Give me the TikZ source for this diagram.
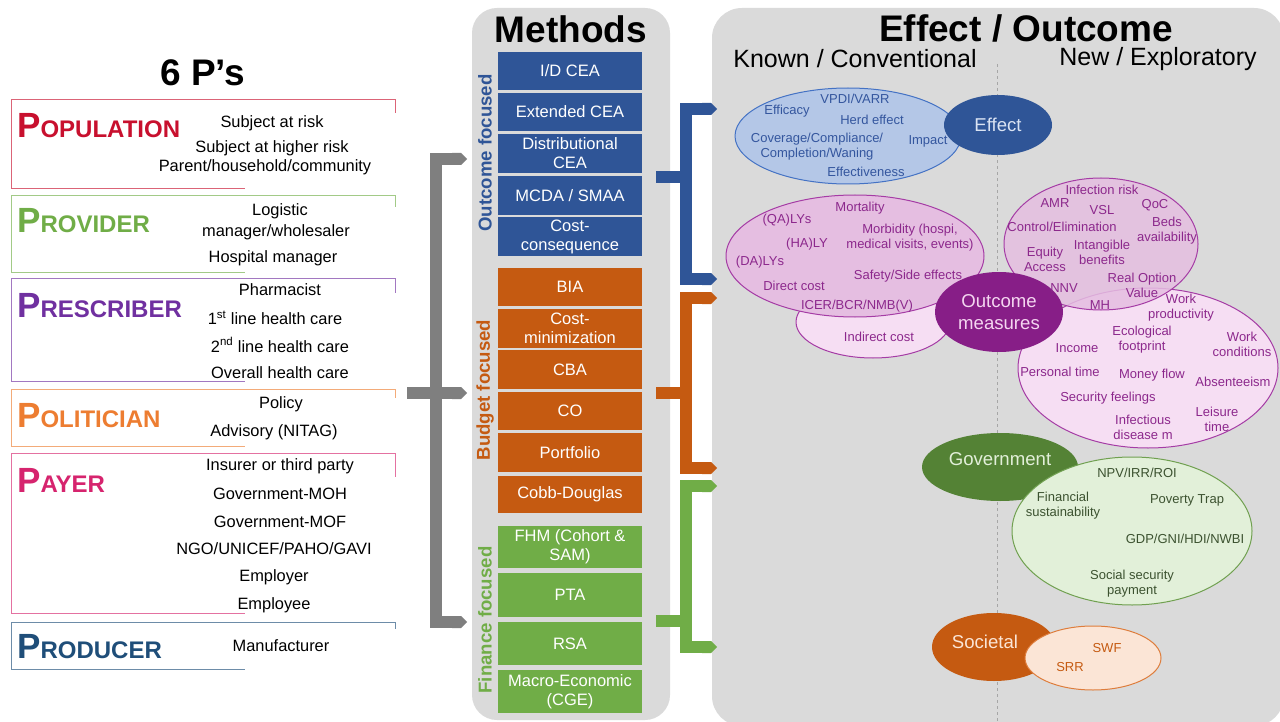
\documentclass[tikz,border=0pt]{standalone}
\usepackage{fontspec}
\setmainfont{Liberation Sans}
\usetikzlibrary{shapes.geometric,arrows.meta}

% colours
\definecolor{panelgray}{RGB}{218,218,218}
\definecolor{bargray}{RGB}{127,127,127}
\definecolor{mblue}{RGB}{47,85,151}
\definecolor{morange}{RGB}{197,90,17}
\definecolor{mgreen}{RGB}{112,173,71}
\definecolor{popred}{RGB}{200,16,46}
\definecolor{provgreen}{RGB}{112,173,71}
\definecolor{prespurple}{RGB}{112,48,160}
\definecolor{polorange}{RGB}{237,125,49}
\definecolor{paypink}{RGB}{214,36,110}
\definecolor{prodblue}{RGB}{31,78,121}
\definecolor{efffill}{RGB}{180,199,231}
\definecolor{effline}{RGB}{68,114,196}
\definecolor{efftext}{RGB}{52,86,158}
\definecolor{efflight}{RGB}{218,227,243}
\definecolor{outfill}{RGB}{229,190,225}
\definecolor{outpale}{RGB}{246,222,243}
\definecolor{outdraw}{RGB}{165,60,165}
\definecolor{outtext}{RGB}{140,40,140}
\definecolor{outdark}{RGB}{135,30,135}
\definecolor{outlight}{RGB}{244,214,240}
\definecolor{govdark}{RGB}{84,130,53}
\definecolor{govfill}{RGB}{226,240,217}
\definecolor{govline}{RGB}{112,160,80}
\definecolor{govtext}{RGB}{60,82,48}
\definecolor{govlight}{RGB}{226,239,217}
\definecolor{socdark}{RGB}{197,90,17}
\definecolor{socfill}{RGB}{251,229,214}
\definecolor{socline}{RGB}{222,125,60}

% big initial, smaller capitals
\newcommand\Pword[2]{{\fontsize{35}{35}\selectfont#1}{\fontsize{24}{24}\selectfont#2}}

\tikzset{
  big/.style={font=\fontsize{37}{40}\selectfont\bfseries, inner sep=0pt},
  sub/.style={font=\fontsize{25}{28}\selectfont, inner sep=0pt},
  item/.style={font=\fontsize{16.4}{18}\selectfont, inner sep=0pt},
  pname/.style={anchor=base west, inner sep=0pt, font=\bfseries},
  mbox/.style={rectangle, inner sep=0pt, minimum width=144pt, align=center,
    text=white, font=\fontsize{16.5}{19}\selectfont},
  side/.style={rotate=90, inner sep=0pt, font=\fontsize{18.6}{20}\selectfont\bfseries},
  bar/.style={line width=12pt, line join=miter},
  ell/.style={ellipse, inner sep=0pt, line width=1pt},
  small/.style={font=\fontsize{13}{15}\selectfont, inner sep=0pt, align=center},
  head/.style={font=\fontsize{18.6}{22}\selectfont, inner sep=0pt, align=center},
}

\begin{document}
\begin{tikzpicture}[x=1pt,y=-1pt]
  \useasboundingbox (0,0) rectangle (1280,722);
  \fill[white] (0,0) rectangle (1280,722);

  % panels
  \fill[panelgray, rounded corners=25pt] (472,8) rectangle (670,720);
  \fill[panelgray, rounded corners=30pt] (712,8) rectangle (1284,726);

  % headings
  \node[big] (ps) at (203,73) {6 P’s};
  \node[big] (methods) at (571,29) {Methods};
  \node[big] (effhead) at (1026,28) {Effect / Outcome};
  \node[sub] (known) at (855,59) {Known / Conventional};
  \node[sub] (new) at (1158,59) {New / Exploratory};

  % the six P frames
  \foreach \n/\c/\t/\b/\k in {population/popred/100/188/13, provider/provgreen/196/272/11,
      prescriber/prespurple/279/381/14, politician/polorange/390/446/8,
      payer/paypink/454/613/23, producer/prodblue/623/669/6}
  {
    \node[inner sep=0pt, minimum width=383pt, minimum height=\b-\t] (\n) at (203.5,{(\t+\b)/2}) {};
    \draw[\c!65, line width=1.2pt] ([xshift=233pt]\n.south west) -- (\n.south west)
      -- (\n.north west) -- (\n.north east) -- ++(0,\k);
  }

  \node[pname, text=popred] (popname) at (17,138) {\Pword{P}{OPULATION}};
  \node[pname, text=provgreen] (provname) at (17,233) {\Pword{P}{ROVIDER}};
  \node[pname, text=prespurple] (presname) at (17,317) {\Pword{P}{RESCRIBER}};
  \node[pname, text=polorange] (polname) at (17,427) {\Pword{P}{OLITICIAN}};
  \node[pname, text=paypink] (payname) at (17,492) {\Pword{P}{AYER}};
  \node[pname, text=prodblue] (prodname) at (17,658) {\Pword{P}{RODUCER}};

  \foreach \x/\y/\t [count=\i] in {272/123/Subject at risk, 272/148/Subject at higher risk,
      265/167/{Parent/household/community}, 280/211/Logistic, 276/232/{manager/wholesaler},
      273/258/Hospital manager, 280/290/Pharmacist, 275/318/{1\textsuperscript{st} line health care},
      280/345/{2\textsuperscript{nd} line health care}, 280/373/Overall health care,
      281/404/Policy, 274/432/{Advisory (NITAG)}, 280/466/Insurer or third party,
      280/494/Government-MOH, 280/522/Government-MOF, 274/549/{NGO/UNICEF/PAHO/GAVI},
      274/577/Employer, 274/605/Employee, 281/646/Manufacturer}
    \node[item] (who-\i) at (\x,\y) {\t};

  % methods column
  \foreach \n/\t/\b/\txt in {idcea/52/90/{I/D CEA}, xcea/93/131/{Extended CEA},
      dcea/134/173/{Distributional\\CEA}, mcda/176/215/{MCDA / SMAA},
      ccons/217/256/{Cost-\\consequence}}
    \node[mbox, fill=mblue, minimum height=\b-\t] (\n) at (570,{(\t+\b)/2}) {\txt};
  \foreach \n/\t/\b/\txt in {bia/268/306/BIA, cmin/309/348/{Cost-\\minimization},
      cba/350/389/CBA, co/392/430/CO, port/433/472/Portfolio, cobb/476/513/Cobb-Douglas}
    \node[mbox, fill=morange, minimum height=\b-\t] (\n) at (570,{(\t+\b)/2}) {\txt};
  \foreach \n/\t/\b/\txt in {fhm/526/568/{FHM (Cohort \&\\SAM)}, pta/573/617/PTA,
      rsa/622/665/RSA, macro/670/713/{Macro-Economic\\(CGE)}}
    \node[mbox, fill=mgreen, minimum height=\b-\t] (\n) at (570,{(\t+\b)/2}) {\txt};

  \node[side, text=mblue] (outfoc) at (485,153) {Outcome focused};
  \node[side, text=morange] (budfoc) at (485,390) {Budget focused};
  \node[side, text=mgreen] (finfoc) at (485,620) {Finance focused};

  % brackets
  \coordinate (g0) at (407,393);  \coordinate (g2) at (467,393);
  \coordinate (g1) at (467,159);  \coordinate (g3) at (467,622);
  \draw[bar, bargray, {Triangle Cap}-{Triangle Cap}] (g1) -- ++(-31,0) |- (g3);
  \draw[bar, bargray, -{Triangle Cap}] (g0) -- (g2);

  \foreach \c/\top/\mid/\bot in {mblue/109/177/279, morange/298/393/468, mgreen/486/621/647}
  {
    \coordinate (a-\c) at (717,\top);
    \coordinate (z-\c) at (717,\bot);
    \coordinate (m-\c) at (656,\mid);
    \coordinate (j-\c) at (686,\mid);
    \draw[bar, \c, {Triangle Cap}-{Triangle Cap}] (a-\c) -- ++(-31,0) |- (z-\c);
    \draw[bar, \c] (m-\c) -- (j-\c);
  }

  % divider
  \draw[dashed, gray!70, line width=0.7pt] (997,64) -- (997,722);

  % effect
  \node[ell, fill=efffill, draw=effline, minimum width=226pt, minimum height=96pt] (effall) at (848,136) {};
  \node[ell, head, fill=mblue, text=efflight, minimum width=108pt, minimum height=60pt] (effect) at (998,125) {Effect};
  \foreach \x/\y/\t [count=\i] in {787/111/Efficacy, 855/99/{VPDI/VARR}, 872/120/Herd effect,
      817/147/{Coverage/Compliance/\\Completion/Waning}, 928/141/Impact, 866/172/Effectiveness}
    \node[small, text=efftext] (eff-\i) at (\x,\y) {\t};

  % outcome measures
  \node[ell, fill=outpale, draw=outdraw, minimum width=154pt, minimum height=72pt] (indirect) at (873,322) {};
  \node[ell, fill=outfill, draw=outdraw, minimum width=258pt, minimum height=122pt] (conv) at (855,256) {};
  \node[ell, fill=outpale, draw=outdraw, minimum width=260pt, minimum height=160pt] (social) at (1148,368) {};
  \node[ell, fill=outfill, fill opacity=0.85, draw=outdraw, minimum width=194pt, minimum height=132pt] (explor) at (1101,244) {};
  \node[ell, head, fill=outdark, text=outlight, minimum width=128pt, minimum height=80pt] (measures) at (999,312) {Outcome\\measures};
  \foreach \x/\y/\t [count=\i] in {860/208/Mortality, 787/220/{(QA)LYs},
      910/238/{Morbidity (hospi,\\medical visits, events)}, 807/244/{(HA)LY}, 760/262/{(DA)LYs},
      908/276/{Safety/Side effects}, 794/286/Direct cost, 857/306/{ICER/BCR/NMB(V)},
      879/337/Indirect cost,
      1102/190/Infection risk, 1055/203/AMR, 1102/210/VSL, 1155/205/QoC,
      1062/227/{Control/Elimination}, 1167/231/{Beds\\availability}, 1102/252/{Intangible\\benefits},
      1045/259/{Equity\\Access}, 1142/285/{Real Option\\Value}, 1064/288/NNV, 1100/305/MH,
      1181/308/{Work\\productivity}, 1142/340/{Ecological\\footprint}, 1242/344/{Work\\conditions},
      1077/348/Income, 1060/372/Personal time, 1152/375/Money flow, 1233/382/Absenteeism,
      1108/398/Security feelings, 1217/419/{Leisure\\time}, 1143/427/{Infectious\\disease m}}
    \node[small, text=outtext] (out-\i) at (\x,\y) {\t};

  % government
  \node[ell, head, fill=govdark, text=govlight, minimum width=156pt, minimum height=68pt,
    text height=13.5pt, text depth=16pt] (gov) at (1000,467) {Government};
  \node[ell, fill=govfill, draw=govline, minimum width=240pt, minimum height=148pt] (govin) at (1132,531) {};
  \foreach \x/\y/\t [count=\i] in {1137/473/{NPV/IRR/ROI}, 1063/506/{Financial\\sustainability},
      1187/500/Poverty Trap, 1185/539/{GDP/GNI/HDI/NWBI}, 1132/584/{Social security\\payment}}
    \node[small, text=govtext] (gv-\i) at (\x,\y) {\t};

  % societal
  \node[ell, head, fill=socdark, text=socfill, minimum width=124pt, minimum height=68pt,
    text height=13.5pt, text depth=10pt] (soc) at (994,647) {Societal\hspace{18pt}};
  \node[ell, fill=socfill, draw=socline, minimum width=136pt, minimum height=64pt] (socin) at (1093,658) {};
  \node[small, text=morange] (swf) at (1107,648) {SWF};
  \node[small, text=morange] (srr) at (1070,667) {SRR};
\end{tikzpicture}
\end{document}
